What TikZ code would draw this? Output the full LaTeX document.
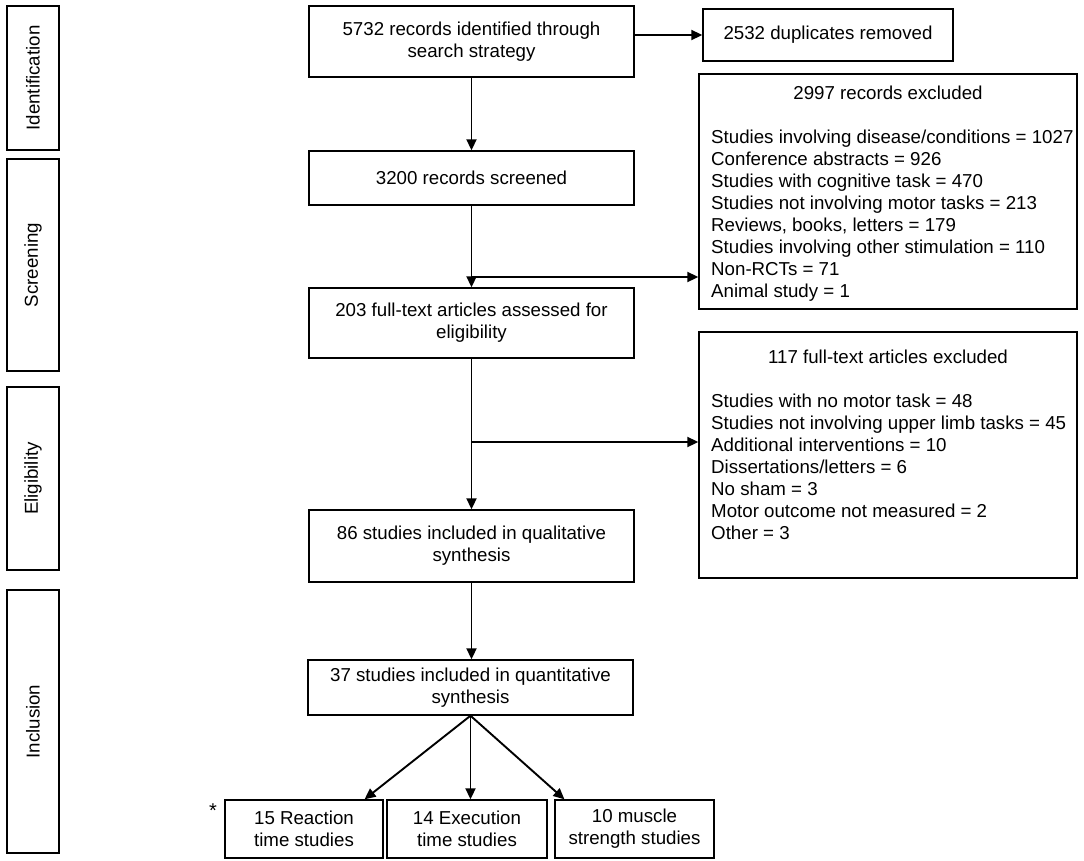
\documentclass[tikz,border=0pt]{standalone}
\usepackage{fontspec}
\setmainfont{Liberation Sans}
\usetikzlibrary{arrows.meta,calc}
\begin{document}
\begin{tikzpicture}[x=1pt,y=-1pt,
  every node/.style={font=\fontsize{18.7}{22}\selectfont},
  box/.style={draw, line width=1.4pt, inner sep=0pt, align=center},
  phase/.style={draw, line width=1.4pt, inner sep=0pt, rotate=90, minimum height=52pt},
  arr/.style={line width=1.9pt, -{Triangle[length=11pt,width=10pt]}},
  txt/.style={inner sep=0pt, align=left}]
\useasboundingbox (0,0) rectangle (1084,860);
% phase labels
\node[phase, minimum width=144pt] (ph1) at (33,78) {Identification};
\node[phase, minimum width=212pt] (ph2) at (33,265) {Screening};
\node[phase, minimum width=183pt] (ph3) at (33,478.5) {Eligibility};
\node[phase, minimum width=263pt] (ph4) at (33,721.5) {Inclusion};
% main column
\node[box, minimum width=325pt, minimum height=71pt] (A) at (471.5,41.5) {5732 records identified through\\search strategy};
\node[box, minimum width=325pt, minimum height=54pt] (B) at (471.5,178) {3200 records screened};
\node[box, minimum width=325pt, minimum height=70pt] (C) at (471.5,323) {203 full-text articles assessed for\\eligibility};
\node[box, minimum width=325pt, minimum height=72pt] (D) at (471.5,546) {86 studies included in qualitative\\synthesis};
\node[box, minimum width=325pt, minimum height=55pt] (E) at (470.5,687.5) {37 studies included in quantitative\\synthesis};
% right column
\node[box, minimum width=250pt, minimum height=52pt] (dup) at (828,35) {2532 duplicates removed};
\node[box, minimum width=378pt, minimum height=235pt] (ex1) at (888,191.5) {};
\node[box, minimum width=378pt, minimum height=246pt] (ex2) at (888,455) {};
\node[txt, anchor=base] (ex1t) at (888,99.5) {2997 records excluded};
\node[txt, anchor=north west] (ex1l) at (711,129.5) {Studies involving disease/conditions = 1027\\
Conference abstracts = 926\\
Studies with cognitive task = 470\\
Studies not involving motor tasks = 213\\
Reviews, books, letters = 179\\
Studies involving other stimulation = 110\\
Non-RCTs = 71\\
Animal study = 1};
\node[txt, anchor=base] (ex2t) at (888,363.5) {117 full-text articles excluded};
\node[txt, anchor=north west] (ex2l) at (711,393.5) {Studies with no motor task = 48\\
Studies not involving upper limb tasks = 45\\
Additional interventions = 10\\
Dissertations/letters = 6\\
No sham = 3\\
Motor outcome not measured = 2\\
Other = 3};
% bottom boxes
\node[box, minimum width=158pt, minimum height=58pt] (R1) at (304,829) {15 Reaction\\time studies};
\node[box, minimum width=160pt, minimum height=58pt] (R2) at (467,829) {14 Execution\\time studies};
\node[box, minimum width=159pt, minimum height=58pt] (R3) at (634.5,829) {10 muscle\\strength studies};
\node[inner sep=0pt, font=\fontsize{20}{22}\selectfont] (star) at (213,811) {*};
% connectors
\coordinate (j1) at (471.5,277);
\coordinate (j2) at (471.5,442);
\draw[arr] (A.east |- dup.west) -- (dup.west);
\draw[arr] (A) -- (B);
\draw[arr] (B) -- (C);
\draw[arr] (j1) -- (j1 -| ex1.west);
\draw[arr] (C) -- (D);
\draw[arr] (j2) -- (j2 -| ex2.west);
\draw[arr] (D.south) -- (D.south |- E.north);
\draw[arr] (E.south) -- ($(R1.north west)!0.88!(R1.north east)$);
\draw[arr] (E.south) -- (E.south |- R2.north);
\draw[arr] (E.south) -- ($(R3.north west)!0.063!(R3.north east)$);
\end{tikzpicture}
\end{document}
